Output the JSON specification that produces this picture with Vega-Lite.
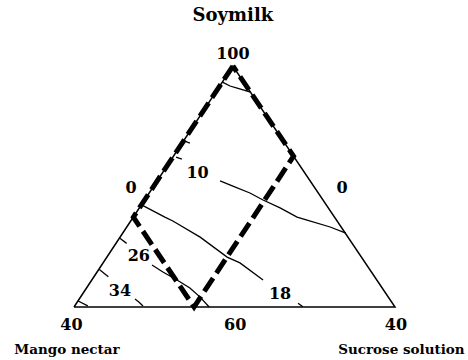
{
  "$schema": "https://vega.github.io/schema/vega-lite/v6.json",
  "width": 468,
  "height": 360,
  "autosize": {"type": "fit", "contains": "padding"},
  "padding": 0,
  "background": "white",
  "config": {"view": {"stroke": null}},
  "datasets": {
    "triangle": [
      {"x": 0, "y": 0, "o": 1},
      {"x": 100, "y": 0, "o": 2},
      {"x": 49.5, "y": 100, "o": 3},
      {"x": 0, "y": 0, "o": 4}
    ],
    "region": [
      {"x": 49.5, "y": 100, "o": 1},
      {"x": 18.5, "y": 37.3, "o": 2},
      {"x": 37.4, "y": 0, "o": 3},
      {"x": 68.4, "y": 62.6, "o": 4},
      {"x": 49.5, "y": 100, "o": 5}
    ],
    "contours": [
      {"id": "top", "x": 46.1, "y": 93.4, "o": 1},
      {"id": "top", "x": 48.6, "y": 91.7, "o": 2},
      {"id": "top", "x": 51.1, "y": 90.7, "o": 3},
      {"id": "top", "x": 55.0, "y": 89.2, "o": 4},
      {"id": "c10", "x": 45.5, "y": 52.3, "o": 1},
      {"id": "c10", "x": 49.5, "y": 50.2, "o": 2},
      {"id": "c10", "x": 54.8, "y": 47.3, "o": 3},
      {"id": "c10", "x": 58.9, "y": 44.4, "o": 4},
      {"id": "c10", "x": 64.2, "y": 41.1, "o": 5},
      {"id": "c10", "x": 69.5, "y": 37.3, "o": 6},
      {"id": "c10", "x": 72.6, "y": 36.1, "o": 7},
      {"id": "c10", "x": 79.8, "y": 33.2, "o": 8},
      {"id": "c10", "x": 84.7, "y": 30.7, "o": 9},
      {"id": "c18", "x": 21.2, "y": 42.3, "o": 1},
      {"id": "c18", "x": 28.3, "y": 37.3, "o": 2},
      {"id": "c18", "x": 30.8, "y": 35.7, "o": 3},
      {"id": "c18", "x": 39.3, "y": 29.0, "o": 4},
      {"id": "c18", "x": 47.7, "y": 20.7, "o": 5},
      {"id": "c18", "x": 51.7, "y": 18.3, "o": 6},
      {"id": "c18", "x": 58.9, "y": 11.2, "o": 7},
      {"id": "c26", "x": 24.3, "y": 17.4, "o": 1},
      {"id": "c26", "x": 27.7, "y": 14.5, "o": 2},
      {"id": "c26", "x": 32.1, "y": 11.2, "o": 3},
      {"id": "c26", "x": 36.1, "y": 7.9, "o": 4},
      {"id": "c26", "x": 39.3, "y": 4.1, "o": 5},
      {"id": "c26", "x": 42.1, "y": 0, "o": 6},
      {"id": "c34", "x": 19.0, "y": 3.3, "o": 1},
      {"id": "c34", "x": 20.2, "y": 2.1, "o": 2},
      {"id": "c34", "x": 21.5, "y": 0.4, "o": 3},
      {"id": "c18b", "x": 69.8, "y": 1.6, "o": 1},
      {"id": "c18b", "x": 71.3, "y": 0.1, "o": 2},
      {"id": "t1", "x": 1.3, "y": 2.5, "o": 1},
      {"id": "t1", "x": 4.3, "y": 0.5, "o": 2},
      {"id": "t2", "x": 7.9, "y": 15.6, "o": 1},
      {"id": "t2", "x": 10.7, "y": 12.6, "o": 2},
      {"id": "t3", "x": 14.3, "y": 28.5, "o": 1},
      {"id": "t3", "x": 16.4, "y": 26.4, "o": 2},
      {"id": "t4", "x": 34.3, "y": 68.9, "o": 1},
      {"id": "t4", "x": 36.1, "y": 68.0, "o": 2},
      {"id": "t5", "x": 31.8, "y": 62.2, "o": 1},
      {"id": "t5", "x": 33.6, "y": 61.4, "o": 2}
    ],
    "labels": [
      {"kind": "title", "text": "Soymilk", "x": 49.5, "y": 120.7},
      {"kind": "name", "text": "Mango nectar", "x": -2.2, "y": -17.8},
      {"kind": "name", "text": "Sucrose solution", "x": 102.0, "y": -17.8},
      {"kind": "number", "text": "100", "x": 49.5, "y": 105.0},
      {"kind": "number", "text": "0", "x": 17.8, "y": 49.4},
      {"kind": "number", "text": "0", "x": 83.5, "y": 49.4},
      {"kind": "number", "text": "40", "x": -0.8, "y": -7.5},
      {"kind": "number", "text": "60", "x": 50.2, "y": -7.5},
      {"kind": "number", "text": "40", "x": 100.3, "y": -7.5},
      {"kind": "number", "text": "10", "x": 38.5, "y": 55.6},
      {"kind": "number", "text": "26", "x": 20.2, "y": 21.0},
      {"kind": "number", "text": "34", "x": 14.3, "y": 6.6},
      {"kind": "number", "text": "18", "x": 64.2, "y": 5.6}
    ]
  },
  "encoding": {
    "x": {"field": "x", "type": "quantitative", "axis": null,
          "scale": {"domain": [-23.05, 122.74], "nice": false, "zero": false}},
    "y": {"field": "y", "type": "quantitative", "axis": null,
          "scale": {"domain": [-21.99, 127.39], "nice": false, "zero": false}}
  },
  "layer": [
    {
      "data": {"name": "triangle"},
      "mark": {"type": "line", "stroke": "black", "strokeWidth": 1.5, "strokeJoin": "miter"},
      "encoding": {"order": {"field": "o", "type": "quantitative"}}
    },
    {
      "data": {"name": "contours"},
      "mark": {"type": "line", "stroke": "black", "strokeWidth": 1.3},
      "encoding": {
        "detail": {"field": "id", "type": "nominal"},
        "order": {"field": "o", "type": "quantitative"}
      }
    },
    {
      "data": {"name": "region"},
      "mark": {"type": "line", "stroke": "black", "strokeWidth": 5, "strokeDash": [16, 6], "strokeCap": "butt"},
      "encoding": {"order": {"field": "o", "type": "quantitative"}}
    },
    {
      "data": {"name": "labels"},
      "transform": [{"filter": "datum.kind === 'title'"}],
      "mark": {"type": "text", "font": "DejaVu Serif", "fontWeight": "bold", "fontSize": 18, "align": "center", "baseline": "middle", "color": "black"},
      "encoding": {"text": {"field": "text"}}
    },
    {
      "data": {"name": "labels"},
      "transform": [{"filter": "datum.kind === 'name'"}],
      "mark": {"type": "text", "font": "DejaVu Serif", "fontWeight": "bold", "fontSize": 13.5, "align": "center", "baseline": "middle", "color": "black"},
      "encoding": {"text": {"field": "text"}}
    },
    {
      "data": {"name": "labels"},
      "transform": [{"filter": "datum.kind === 'number'"}],
      "mark": {"type": "text", "font": "DejaVu Serif", "fontWeight": "bold", "fontSize": 16, "align": "center", "baseline": "middle", "color": "black"},
      "encoding": {"text": {"field": "text"}}
    }
  ]
}
